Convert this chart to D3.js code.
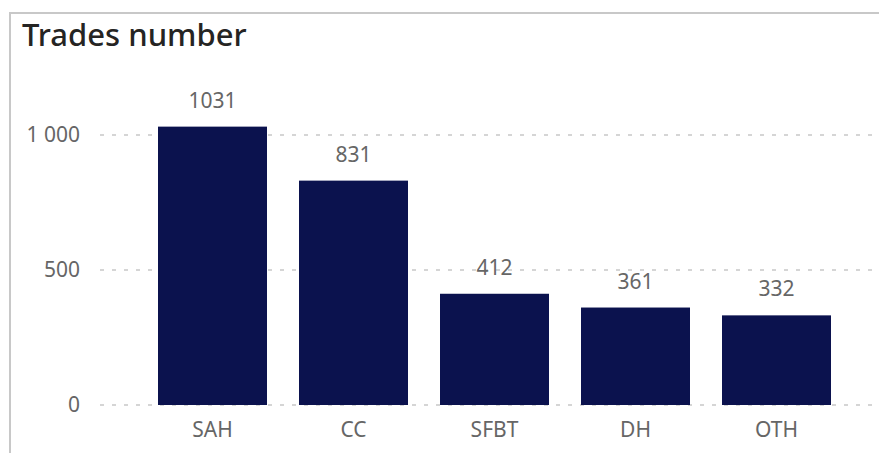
<!DOCTYPE html>
<html>
<head>
<meta charset="utf-8">
<script src="https://cdn.jsdelivr.net/npm/d3@7"></script>
<style>
  body { margin: 0; background: #fff; }
  text { font-family: "Noto Sans", "Open Sans", sans-serif; }
</style>
</head>
<body>
<div id="container"></div>
<script>
/** CONSTANTS AND GLOBALS */
const width = 879,
  height = 453,
  margin = { top: 135, bottom: 48, left: 142, right: 32 };

/** DATA */
const categories = ["SAH", "CC", "SFBT", "DH", "OTH"];
const trades = [1031, 831, 412, 361, 332];
const yTicks = [0, 500, 1000];

const svg = d3.select("#container")
  .append("svg")
  .attr("width", width)
  .attr("height", height);

// card frame (top + left edge visible)
svg.append("path")
  .attr("d", `M10,${height} V13 H${width}`)
  .attr("fill", "none")
  .attr("stroke", "#c8c8c8")
  .attr("stroke-width", 2);

svg.append("text")
  .attr("x", 22)
  .attr("y", 46)
  .attr("font-size", 31)
  .attr("font-weight", 500)
  .attr("fill", "#252423")
  .text("Trades number");

const x = d3.scaleBand()
  .domain(categories)
  .range([margin.left, width - margin.right])
  .paddingInner(0.227)
  .paddingOuter(0.1135);

const y = d3.scaleLinear()
  .domain([0, 1000])
  .range([height - margin.bottom, margin.top]);

// gridlines
svg.selectAll(".grid")
  .data(yTicks)
  .join("line")
  .attr("class", "grid")
  .attr("x1", 100)
  .attr("x2", 875)
  .attr("y1", d => y(d))
  .attr("y2", d => y(d))
  .attr("stroke", "#c8c8c8")
  .attr("stroke-width", 1.5)
  .attr("stroke-dasharray", "4 8");

// y axis labels
const fmt = d => d3.format(",")(d).replace(",", " ");
svg.selectAll(".ytick")
  .data(yTicks)
  .join("text")
  .attr("class", "ytick")
  .attr("x", 80)
  .attr("y", d => y(d))
  .attr("dy", "0.35em")
  .attr("text-anchor", "end")
  .attr("font-size", 21)
  .attr("fill", "#666666")
  .text(fmt);

// bars
svg.selectAll(".bar")
  .data(categories)
  .join("rect")
  .attr("class", "bar")
  .attr("x", d => x(d))
  .attr("width", x.bandwidth())
  .attr("y", (d, i) => y(trades[i]))
  .attr("height", (d, i) => y(0) - y(trades[i]))
  .attr("fill", "#0b124e");

// value labels
svg.selectAll(".val")
  .data(categories)
  .join("text")
  .attr("class", "val")
  .attr("x", d => x(d) + x.bandwidth() / 2)
  .attr("y", (d, i) => y(trades[i]) - 19)
  .attr("text-anchor", "middle")
  .attr("font-size", 21)
  .attr("fill", "#666666")
  .text((d, i) => trades[i]);

// x axis labels
svg.selectAll(".xtick")
  .data(categories)
  .join("text")
  .attr("class", "xtick")
  .attr("x", d => x(d) + x.bandwidth() / 2)
  .attr("y", y(0) + 25)
  .attr("dy", "0.35em")
  .attr("text-anchor", "middle")
  .attr("font-size", 21)
  .attr("fill", "#666666")
  .text(d => d);
</script>
</body>
</html>
